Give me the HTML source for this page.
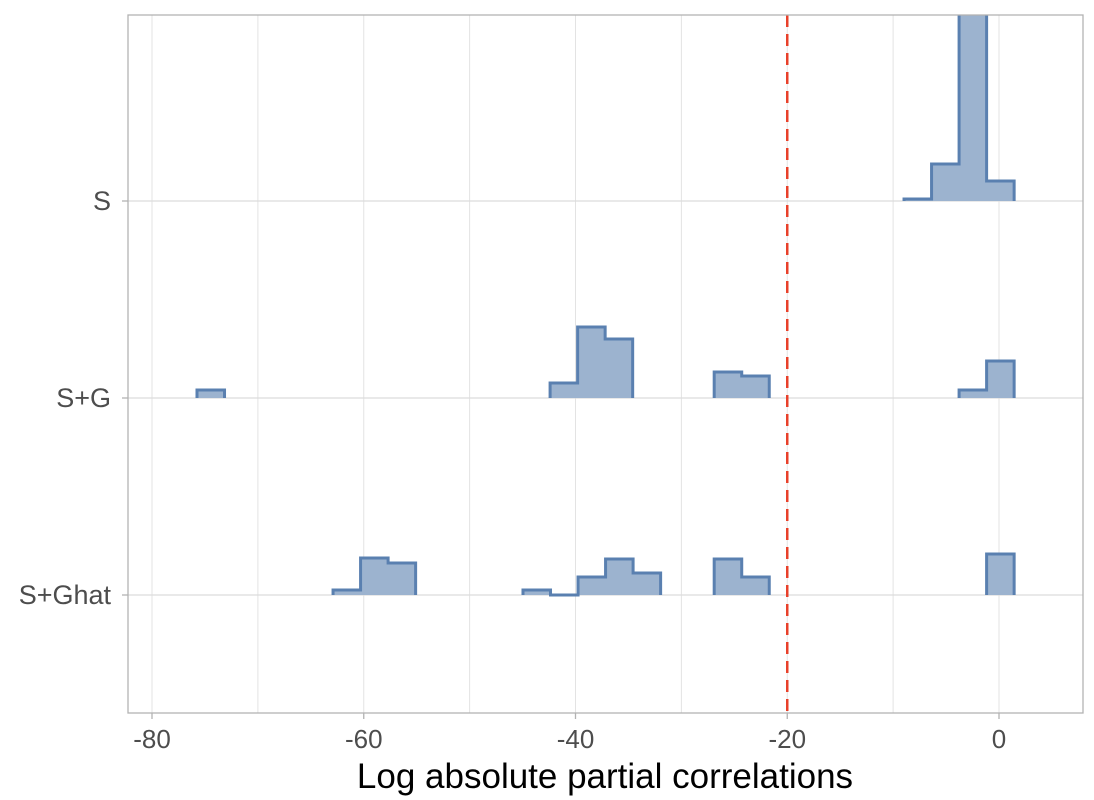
<!DOCTYPE html>
<html><head><meta charset="utf-8"><style>
body{margin:0;background:#fff;}
svg{display:block;font-family:"Liberation Sans",sans-serif;}
</style></head><body>
<svg id="c" width="1094" height="800"></svg>
<script>
const groups=["S","S+G","S+Ghat"];
const binWidth=2.6;
const sStarts=[-8.97,-6.37,-3.77,-1.17];
const sHeights=[2,37,400,20];
const sgStarts=[-75.75,-42.4,-39.8,-37.2,-26.9,-24.3,-3.77,-1.17];
const sgHeights=[8,15,71,59,26,22,8,37];
const sghStarts=[-62.9,-60.3,-57.7,-44.96,-42.36,-39.76,-37.16,-34.56,-26.9,-24.3,-1.17];
const sghHeights=[5,37,32,5,0,18,36,22,36,18,41];
const xTicks=[-80,-60,-40,-20,0];
const xGrid=[-80,-70,-60,-50,-40,-30,-20,-10,0];
const threshold=-20;

const L=128,R=1083,T=15,B=713;
const X=v=>999+v*10.5875;
const baseY=[201,398,595];
const Hs=v=>v;
const svg=document.getElementById('c');
const ns="http://www.w3.org/2000/svg";
function mk(tag,attrs,parent){const e=document.createElementNS(ns,tag);for(const k in attrs)e.setAttribute(k,attrs[k]);(parent||svg).appendChild(e);return e;}
const defs=mk('defs',{});
const cp=mk('clipPath',{id:'clip'},defs);
mk('rect',{x:L,y:T,width:R-L,height:B-T},cp);
const grid=mk('g',{});


xGrid.forEach(v=>mk('line',{x1:X(v),x2:X(v),y1:T,y2:B,stroke:'#e3e3e3','stroke-width':1},grid));
baseY.forEach(y=>mk('line',{x1:L,x2:R,y1:y,y2:y,stroke:'#dcdcdc','stroke-width':1.2},grid));
const plot=mk('g',{'clip-path':'url(#clip)'});
const series=[[sStarts,sHeights],[sgStarts,sgHeights],[sghStarts,sghHeights]];
series.forEach((s,gi)=>{
  const [st,hs]=s;const by=baseY[gi];
  const g=mk('g',{},plot);
  
  
  let runs=[],cur=null;
  st.forEach((a,i)=>{if(cur&&Math.abs(a-cur.end)<0.3){cur.bins.push(i);cur.end=a+binWidth;}else{cur={bins:[i],end:a+binWidth};runs.push(cur);}});
  runs.forEach(r=>{
    let d='M'+X(st[r.bins[0]])+','+by;
    r.bins.forEach(i=>{const y=by-Hs(hs[i]);d+=' L'+X(st[i])+','+y+' L'+X(st[i]+binWidth)+','+y;});
    d+=' L'+X(r.end)+','+by;
    const f=mk('path',{d:d+' Z',fill:'#9cb3cf',stroke:'none'},g);
    
    
    const o=mk('path',{d:d,fill:'none',stroke:'#5a80b0','stroke-width':3,'stroke-linejoin':'miter'},g);
    
    
  });
});
const th=mk('line',{x1:X(threshold),x2:X(threshold),y1:T,y2:B,stroke:'#e8402a','stroke-width':2.5,'stroke-dasharray':'12,7'});


const frame=mk('rect',{x:L,y:T,width:R-L,height:B-T,fill:'none',stroke:'#b3b3b3','stroke-width':1.3});


xTicks.forEach(v=>{
  mk('line',{x1:X(v),x2:X(v),y1:B,y2:B+6,stroke:'#b3b3b3','stroke-width':1.3});
  const t=mk('text',{x:X(v),y:B+35,'text-anchor':'middle','font-size':26,fill:'#4d4d4d'});
  t.textContent=v;
  
  
});
groups.forEach((gname,i)=>{
  mk('line',{x1:L-6,x2:L,y1:baseY[i],y2:baseY[i],stroke:'#b3b3b3','stroke-width':1.3});
  const t=mk('text',{x:L-17,y:baseY[i]+9,'text-anchor':'end','font-size':27,fill:'#4d4d4d'});
  t.textContent=gname;
  
  
});
const xt=mk('text',{x:605,y:788,'text-anchor':'middle','font-size':35,fill:'#000'});
xt.textContent='Log absolute partial correlations';


</script>
</body></html>
